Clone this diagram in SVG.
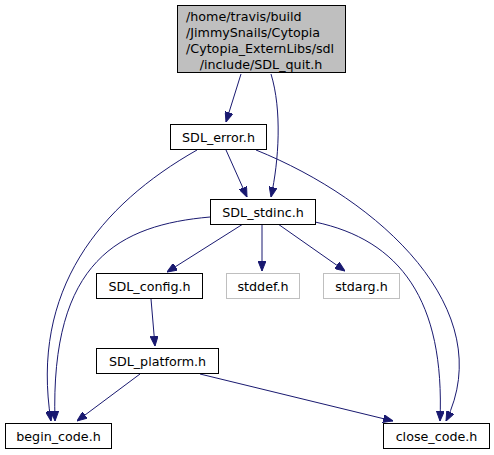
<svg xmlns="http://www.w3.org/2000/svg" width="494" height="455" viewBox="0 0 494 455">
<defs>
<marker id="ah" markerWidth="10" markerHeight="8" refX="10" refY="4" orient="auto" markerUnits="userSpaceOnUse">
<path d="M0,0 L10,4 L0,8 Z" fill="#191970" stroke="#191970"/>
</marker>
</defs>
<style>
.n rect{fill:#fff;stroke:#000;stroke-width:1}
.g rect{fill:#fff;stroke:#bfbfbf;stroke-width:1}
.top rect{fill:#bfbfbf;stroke:#000;stroke-width:1}
text{font-family:"DejaVu Sans",sans-serif;font-size:12.7px;fill:#000}
.c{text-anchor:middle}
#edges path{fill:none;stroke:#191970;stroke-width:1;marker-end:url(#ah)}
</style>
<rect width="494" height="455" fill="#fff"/>
<g id="edges">
<path d="M241,74 L226,122"/>
<path d="M271,74 C282,110 279,160 271,197"/>
<path d="M226,150 L247,197"/>
<path d="M197,150 C100,205 30,290 51,421"/>
<path d="M210,217 C120,225 50,260 55,421"/>
<path d="M256,150 C380,200 500,310 446,421"/>
<path d="M315,222 C400,240 445,300 440,421"/>
<path d="M243,224 L167,272"/>
<path d="M262,224 L262,271"/>
<path d="M278,224 L345,271"/>
<path d="M151,299 L155,346"/>
<path d="M140,374 L77,421"/>
<path d="M200,374 L393,421"/>
</g>
<g id="n0" class="top"><rect x="177.5" y="5.5" width="168" height="67"/>
<text x="186" y="21">/home/travis/build</text>
<text x="186" y="37">/JimmySnails/Cytopia</text>
<text x="186" y="53">/Cytopia_ExternLibs/sdl</text>
<text x="261" y="69" class="c">/include/SDL_quit.h</text></g>
<g id="n1" class="n"><rect x="170.5" y="124.5" width="96" height="25"/><text x="218.5" y="141.5" class="c">SDL_error.h</text></g>
<g id="n2" class="n"><rect x="210.5" y="199.5" width="105" height="25"/><text x="263" y="216.5" class="c">SDL_stdinc.h</text></g>
<g id="n3" class="n"><rect x="96.5" y="273.5" width="106" height="25"/><text x="149.5" y="290.5" class="c">SDL_config.h</text></g>
<g id="n4" class="g"><rect x="226.5" y="273.5" width="73" height="25"/><text x="263" y="290.5" class="c">stddef.h</text></g>
<g id="n5" class="g"><rect x="323.5" y="273.5" width="76" height="25"/><text x="361.5" y="290.5" class="c">stdarg.h</text></g>
<g id="n6" class="n"><rect x="96.5" y="348.5" width="122" height="25"/><text x="157.5" y="365.5" class="c">SDL_platform.h</text></g>
<g id="n7" class="n"><rect x="5.5" y="423.5" width="106" height="25"/><text x="58.5" y="440.5" class="c">begin_code.h</text></g>
<g id="n8" class="n"><rect x="383.5" y="423.5" width="106" height="25"/><text x="436.5" y="440.5" class="c">close_code.h</text></g>
</svg>
